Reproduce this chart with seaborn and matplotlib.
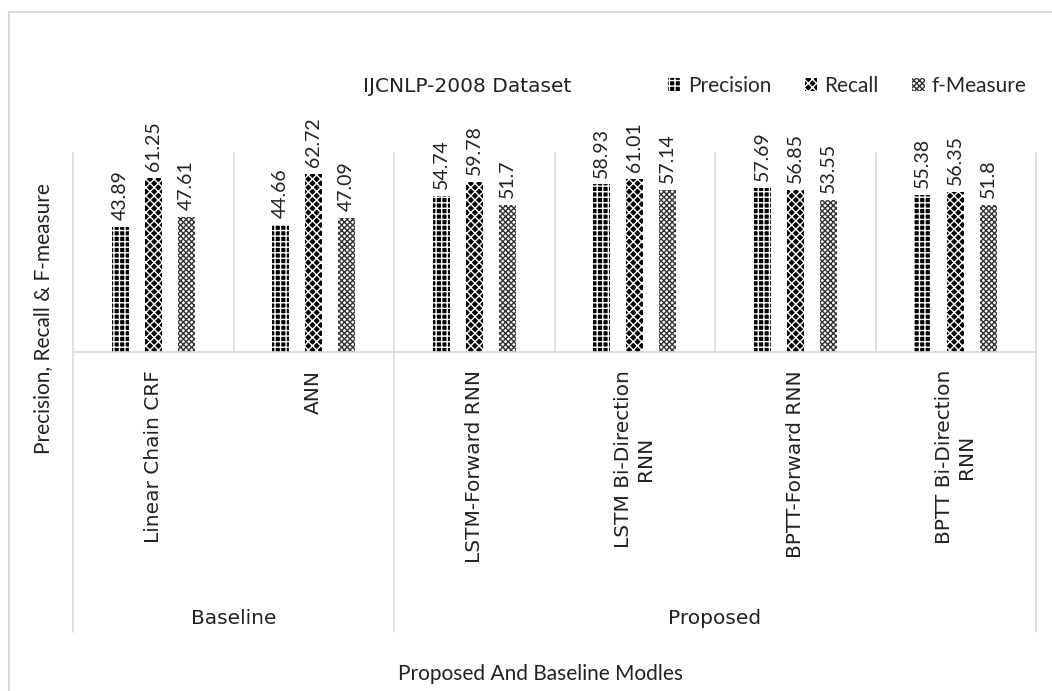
import numpy as np
import pandas as pd
import matplotlib
matplotlib.use('Agg')
import matplotlib.pyplot as plt
import matplotlib.patches as mpatches
import seaborn as sns

# Data
models = ['Linear Chain CRF', 'ANN', 'LSTM-Forward RNN', 'LSTM Bi-Direction\nRNN',
          'BPTT-Forward RNN', 'BPTT Bi-Direction\nRNN']
metrics = ['Precision', 'Recall', 'f-Measure']
precision = [43.89, 44.66, 54.74, 58.93, 57.69, 55.38]
recall = [61.25, 62.72, 59.78, 61.01, 56.85, 56.35]
f_measure = [47.61, 47.09, 51.7, 57.14, 53.55, 51.8]
groups = ['Baseline', 'Proposed']
group_spans = [(0, 1), (2, 5)]

sns.set_style('white')
plt.rcParams['font.family'] = ['Lato', 'DejaVu Sans']
plt.rcParams['hatch.linewidth'] = 1.0
# letter-spaced texts in the original look closest in a wider face
wide = ['DejaVu Sans']

df = pd.DataFrame({
    'model': models * 3,
    'metric': np.repeat(metrics, len(models)),
    'value': precision + recall + f_measure,
})

W, H = 1052, 691
fig = plt.figure(figsize=(W / 100, H / 100), dpi=100)
ax = fig.add_axes([73 / W, 1 - 352 / H, (1036 - 73) / W, (352 - 153) / H])

sns.barplot(data=df, x='model', y='value', hue='metric', order=models, hue_order=metrics,
            palette=['black', 'black', 'white'], width=0.617, gap=0.475,
            legend=False, ax=ax)

# pattern fills like the Excel original
styles = {
    'Precision': dict(face='black', hatch_col='white', hatch='+++'),
    'Recall': dict(face='black', hatch_col='white', hatch='xxxx'),
    'f-Measure': dict(face='white', hatch_col='#333333', hatch='xxxxxx'),
}
for cont, m in zip(ax.containers, metrics):
    st = styles[m]
    for bar in cont:
        bar.set_facecolor(st['face'])
        bar.set_edgecolor(st['hatch_col'])
        bar.set_hatch(st['hatch'])
        bar.set_linewidth(0)
    ax.bar_label(cont, fmt='%g', rotation=90, padding=5, fontsize=14, color='#222222')

ax.set_ylim(0, 70)
ax.set_xlim(-0.5, len(models) - 0.5)
ax.set_xticks([])
ax.set_yticks([])
ax.set_xlabel('')
ax.set_ylabel('')
for s in ['top', 'left', 'right']:
    ax.spines[s].set_visible(False)
ax.spines['bottom'].set_color('#d9d9d9')
ax.spines['bottom'].set_linewidth(1.2)

grid_col = '#d9d9d9'
trans = ax.get_xaxis_transform()
bottom = -(632 - 352) / (352 - 153)
# category separators (inside the plot)
for i in range(len(models) + 1):
    x = i - 0.5
    ax.plot([x, x], [0, 1], color=grid_col, lw=1.2, transform=trans, clip_on=False)
# group separators run down through the label area
edges = [-0.5] + [g[1] + 0.5 for g in group_spans]
for x in edges:
    ax.plot([x, x], [bottom, 0], color=grid_col, lw=1.2, transform=trans, clip_on=False)

# category labels
lab_top = -(370 - 352) / (352 - 153)
for i, name in enumerate(models):
    ax.text(i, lab_top, name, rotation=90, ha='center', va='top', multialignment='center',
            fontsize=14.5, family=wide, color='#222222', transform=trans)

# group labels
grp_y = -(619 - 352) / (352 - 153)
for g, (a, b) in zip(groups, group_spans):
    ax.text((a + b) / 2, grp_y, g, ha='center', va='center', fontsize=14.5, family=wide,
            color='#222222', transform=trans)

# axis titles
fig.text(43 / W, 1 - 319 / H, 'Precision, Recall & F-measure', rotation=90,
         ha='center', va='center', fontsize=15, color='#222222')
fig.text(541 / W, 1 - 674 / H, 'Proposed And Baseline Modles', ha='center', va='center',
         fontsize=15, color='#222222')
fig.text(467 / W, 1 - 86 / H, 'IJCNLP-2008 Dataset', ha='center', va='center',
         fontsize=14.5, family=wide, color='#222222')

# legend
handles = [mpatches.Patch(facecolor=styles[m]['face'], edgecolor=styles[m]['hatch_col'],
                          hatch=styles[m]['hatch'], linewidth=0) for m in metrics]
fig.legend(handles, metrics, loc='center left', bbox_to_anchor=(668 / W, 1 - 86 / H),
           ncol=3, frameon=False, fontsize=15, handlelength=0.6, handleheight=0.6,
           handletextpad=0.35, columnspacing=1.6, borderaxespad=0, borderpad=0)

# outer chart border (right/bottom edges are cropped in the original)
fig.add_artist(mpatches.Rectangle((9 / W, -0.1), 1.2, 1.1 - 12 / H, fill=False,
                                  edgecolor='#d9d9d9', lw=1.5, transform=fig.transFigure))

fig.savefig('out.png', dpi=100)
